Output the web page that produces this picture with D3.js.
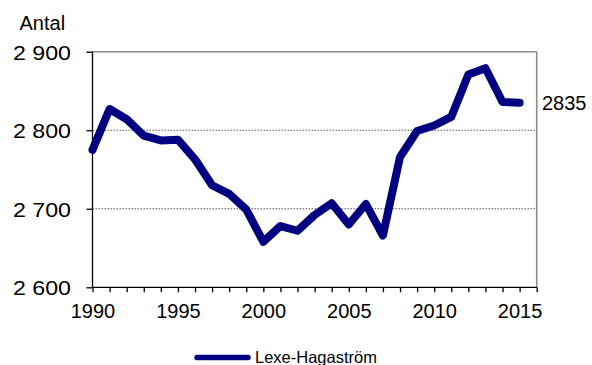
<!DOCTYPE html>
<html><head><meta charset="utf-8">
<script src="https://cdn.jsdelivr.net/npm/d3@7"></script>
<style>body{margin:0;background:#fff}svg{display:block}text{font-family:"Liberation Sans",Arial,sans-serif;fill:#000}</style>
</head><body><svg id="c" width="592" height="365"></svg>
<script>
const years = [1990,1991,1992,1993,1994,1995,1996,1997,1998,1999,2000,2001,2002,2003,2004,2005,2006,2007,2008,2009,2010,2011,2012,2013,2014,2015];
const values = [2775,2827,2814,2793,2787,2788,2763,2730,2719,2699,2658,2678,2672,2692,2707,2680,2706,2666,2766,2799,2806,2817,2871,2879,2836,2835];
const seriesName = "Lexe-Hagaström";
const yTicks = [2600,2700,2800,2900];
const xLabelYears = [1990,1995,2000,2005,2010,2015];
const yTitle = "Antal";
const endLabel = "2835";

const svg = d3.select("#c");
const L=92.5,R=536.7,T=51.7,B=287.3;
const x = d3.scaleLinear().domain([1990,2016]).range([L,R]);
const y = d3.scaleLinear().domain([2600,2900]).range([B,T]);
const fmt = v => { const s=String(v); return s.slice(0,1)+"\u00a0"+s.slice(1); };

// gridlines (dotted)
svg.selectAll(".grid").data(yTicks.filter(v=>v>2600&&v<2900)).enter().append("line")
  .attr("x1",L).attr("x2",R).attr("y1",d=>y(d)).attr("y2",d=>y(d))
  .attr("stroke","#555").attr("stroke-width",1).attr("stroke-dasharray","1.5,1.5");
// top & right border grey
svg.append("line").attr("x1",L).attr("x2",R).attr("y1",T).attr("y2",T).attr("stroke","#8c8c8c").attr("stroke-width",1.6);
svg.append("line").attr("x1",R).attr("x2",R).attr("y1",T).attr("y2",B).attr("stroke","#8c8c8c").attr("stroke-width",1.6);

// y axis
const ya = d3.axisLeft(y).tickValues(yTicks).tickSize(6).tickFormat(fmt);
const gy = svg.append("g").attr("transform",`translate(${L},0)`).call(ya);
gy.select(".domain").attr("stroke","#000").attr("stroke-width",1.3).attr("d",`M0,${T}V${B}`);
gy.selectAll(".tick line").attr("stroke","#000").attr("stroke-width",1.3);
gy.selectAll("text").attr("x",-21.5).attr("font-size","21px").attr("dy","0.36em")
  .attr("textLength",58).attr("lengthAdjust","spacingAndGlyphs")
  .style("font-family","Liberation Sans, Arial, sans-serif");

// x axis
const xa = d3.axisBottom(x).tickValues(d3.range(1990,2017)).tickSize(5).tickFormat(d=>xLabelYears.includes(d)?String(d):"");
const gx = svg.append("g").attr("transform",`translate(0,${B})`).call(xa);
gx.select(".domain").attr("stroke","#000").attr("stroke-width",1.3).attr("d",`M${L},0H${R}`);
gx.selectAll(".tick line").attr("stroke","#000").attr("stroke-width",1.3);
gx.selectAll("text").attr("y",17).attr("font-size","20px").attr("dy","0.71em").style("font-family","Liberation Sans, Arial, sans-serif");

// line
const line = d3.line().x((d,i)=>x(years[i])).y(d=>y(d));
svg.append("path").datum(values).attr("d",line).attr("fill","none")
  .attr("stroke","#000080").attr("stroke-width",8).attr("stroke-linejoin","round").attr("stroke-linecap","round");

// labels
svg.append("text").attr("x",19.5).attr("y",30).attr("font-size","20px").text(yTitle);
svg.append("text").attr("x",542).attr("y",110).attr("font-size","20px").text(endLabel);

// legend
svg.append("line").attr("x1",197).attr("x2",248).attr("y1",357.5).attr("y2",357.5).attr("stroke","#000080").attr("stroke-width",5.5).attr("stroke-linecap","round");
svg.append("text").attr("x",255).attr("y",362.5).attr("font-size","16.5px").text(seriesName);
</script></body></html>
